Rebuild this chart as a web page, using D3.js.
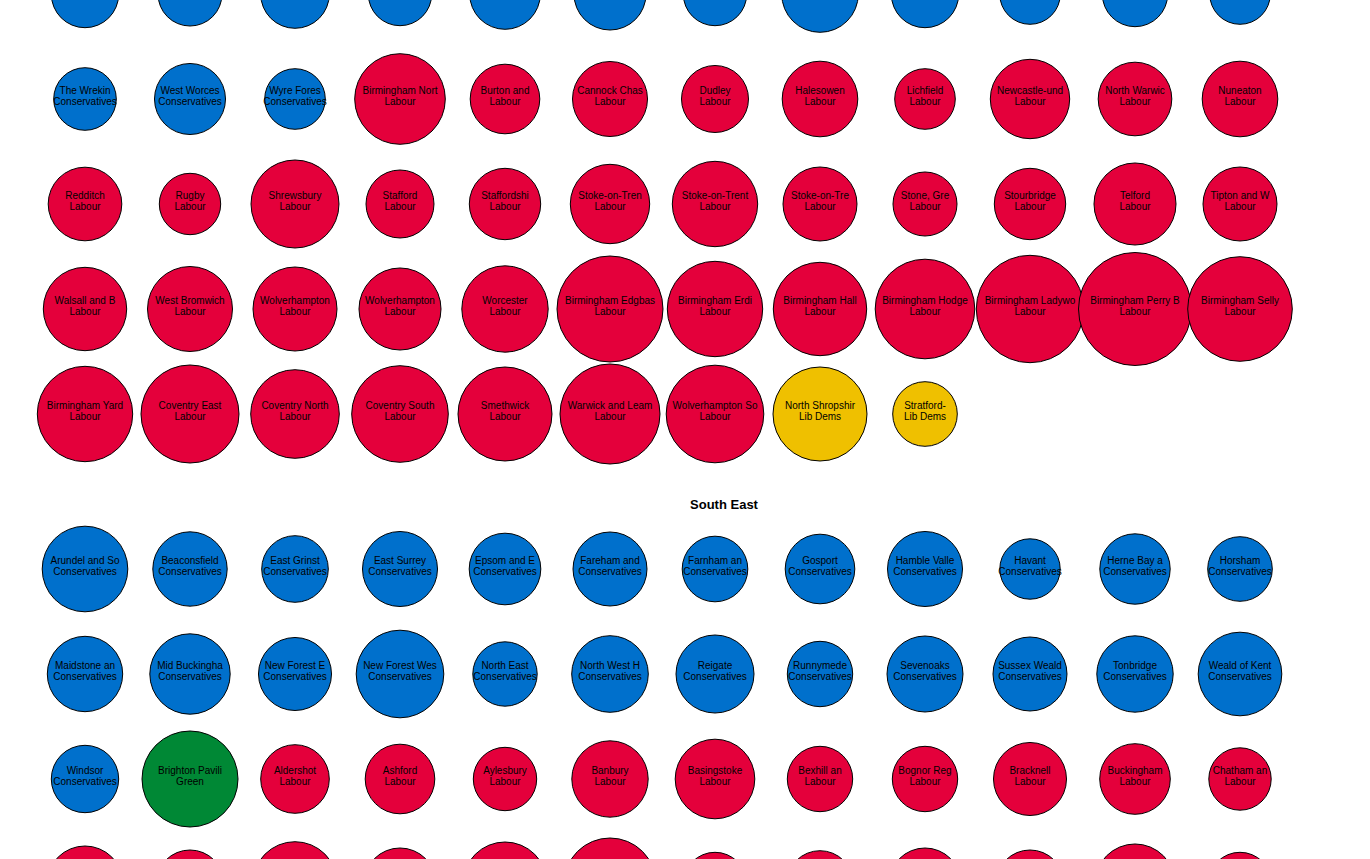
<!DOCTYPE html>
<html>
<head>
<meta charset="utf-8">
<script src="https://cdn.jsdelivr.net/npm/d3@7/dist/d3.min.js"></script>
<style>
  html, body { margin: 0; padding: 0; background: #fff; overflow: hidden; }
  svg { display: block; font-family: "Liberation Sans", Arial, sans-serif; }
</style>
</head>
<body>
<svg id="chart" width="1370" height="859"></svg>
<script>
// ---------- DATA ----------
const regions = ["West Midlands", "South East"];

const partyNames   = ["Conservatives", "Labour", "Lib Dems", "Green"];
const partyColours = ["#0070cc", "#e4003b", "#efc000", "#008835"];

// West Midlands seats (labels as shown, truncated in the original)
const wmNames = [
  "Aldridge-Brow", "Bromsgrove", "Droitwich and", "Hereford and", "Kenilworth an", "Ludlow",
  "Meriden and S", "North Herefor", "Solihull West", "South Shropsh", "Sutton Coldfi", "Tamworth",
  "The Wrekin", "West Worces", "Wyre Fores", "Birmingham Nort", "Burton and", "Cannock Chas",
  "Dudley", "Halesowen", "Lichfield", "Newcastle-und", "North Warwic", "Nuneaton",
  "Redditch", "Rugby", "Shrewsbury", "Stafford", "Staffordshi", "Stoke-on-Tren",
  "Stoke-on-Trent", "Stoke-on-Tre", "Stone, Gre", "Stourbridge", "Telford", "Tipton and W",
  "Walsall and B", "West Bromwich", "Wolverhampton", "Wolverhampton", "Worcester", "Birmingham Edgbas",
  "Birmingham Erdi", "Birmingham Hall", "Birmingham Hodge", "Birmingham Ladywo", "Birmingham Perry B", "Birmingham Selly",
  "Birmingham Yard", "Coventry East", "Coventry North", "Coventry South", "Smethwick", "Warwick and Leam",
  "Wolverhampton So", "North Shropshir", "Stratford-"
];
const wmParties = [
  "Conservatives","Conservatives","Conservatives","Conservatives","Conservatives","Conservatives",
  "Conservatives","Conservatives","Conservatives","Conservatives","Conservatives","Conservatives",
  "Conservatives","Conservatives","Conservatives","Labour","Labour","Labour",
  "Labour","Labour","Labour","Labour","Labour","Labour",
  "Labour","Labour","Labour","Labour","Labour","Labour",
  "Labour","Labour","Labour","Labour","Labour","Labour",
  "Labour","Labour","Labour","Labour","Labour","Labour",
  "Labour","Labour","Labour","Labour","Labour","Labour",
  "Labour","Labour","Labour","Labour","Labour","Labour",
  "Labour","Lib Dems","Lib Dems"
];
const wmVotes = [
  12619, 11378, 13072, 11166, 13845, 14400, 11166, 16299, 12619, 10201, 11881, 10201,
  10886, 14003, 10201, 22801, 13456, 15625, 12469, 15876, 10201, 17512, 15047, 15876,
  15047, 10472, 21511, 12844, 14161, 17512, 20259, 15211, 11378, 14161, 18678, 15211,
  19321, 20069, 19600, 18678, 20736, 31211, 25281, 24232, 27556, 32041, 35469, 30392,
  25281, 26678, 21806, 25921, 24544, 27778, 26460, 24544, 11592
];

// South East seats
const seNames = [
  "Arundel and So", "Beaconsfield", "East Grinst", "East Surrey", "Epsom and E", "Fareham and",
  "Farnham an", "Gosport", "Hamble Valle", "Havant", "Herne Bay a", "Horsham",
  "Maidstone an", "Mid Buckingha", "New Forest E", "New Forest Wes", "North East", "North West H",
  "Reigate", "Runnymede", "Sevenoaks", "Sussex Weald", "Tonbridge", "Weald of Kent",
  "Windsor", "Brighton Pavili", "Aldershot", "Ashford", "Aylesbury", "Banbury",
  "Basingstoke", "Bexhill an", "Bognor Reg", "Bracknell", "Buckingham", "Chatham an",
  "Crawley", "Dartford", "Dover and De", "Folkestone a", "Gillingham a", "Gravesham",
  "Hastings an", "Hove and Po", "Milton Keyne", "Milton Keyne", "Oxford East", "Portsmouth"
];
const seParties = [
  "Conservatives","Conservatives","Conservatives","Conservatives","Conservatives","Conservatives",
  "Conservatives","Conservatives","Conservatives","Conservatives","Conservatives","Conservatives",
  "Conservatives","Conservatives","Conservatives","Conservatives","Conservatives","Conservatives",
  "Conservatives","Conservatives","Conservatives","Conservatives","Conservatives","Conservatives",
  "Conservatives","Green","Labour","Labour","Labour","Labour",
  "Labour","Labour","Labour","Labour","Labour","Labour",
  "Labour","Labour","Labour","Labour","Labour","Labour",
  "Labour","Labour","Labour","Labour","Labour","Labour"
];
const seVotes = [
  20354, 15376, 12321, 15625, 14240, 15211, 11954, 13456, 15625, 10134, 13767, 11592,
  15792, 17956, 14803, 21316, 11520, 16299, 16900, 11881, 16044, 15211, 16214, 19414,
  12619, 25600, 13072, 13456, 11166, 16214, 17600, 11881, 11881, 14803, 13845, 10816,
  16044, 12844, 19881, 14400, 19600, 23511, 11166, 12321, 14400, 12844, 17778, 11166
];

// ---------- LAYOUT ----------
const width = 1370, height = 859;
const svg = d3.select("#chart");
const cols = 12;
const rowStep = 105;
const titleGap = 60;      // title baseline -> first row centre
const sectionGap = 95;    // last row centre -> next title baseline
const pageOffset = -66;   // page is scrolled: first title sits above the view
const titleX = 724;

const x = d3.scalePoint().domain(d3.range(cols)).range([85, 1240]);
const r = d3.scaleSqrt().domain([0, 40000]).range([0, 60]);
const colour = d3.scaleOrdinal().domain(partyNames).range(partyColours);

const regionSeats = [
  d3.zip(wmNames, wmParties, wmVotes),
  d3.zip(seNames, seParties, seVotes)
];

// only text that falls inside the visible page is drawn
const visible = (yy, pad) => yy - pad >= 0 && yy + pad <= height;

let cursor = pageOffset;
regions.forEach((region, ri) => {
  const seats = regionSeats[ri].map(([name, party, votes], i) => ({
    name, party, votes, col: i % cols, row: Math.floor(i / cols)
  }));
  const nRows = Math.ceil(seats.length / cols);
  const titleY = cursor;
  const firstRowY = titleY + titleGap;
  const y = d3.scaleLinear().domain([0, 1]).range([firstRowY, firstRowY + rowStep]);

  const g = svg.append("g").attr("class", "region");
  if (visible(titleY, 12)) {
    g.append("text")
      .attr("x", titleX)
      .attr("y", titleY)
      .attr("text-anchor", "middle")
      .attr("font-size", 13)
      .attr("font-weight", "bold")
      .attr("fill", "#000")
      .text(region);
  }

  const seat = g.selectAll("g.seat").data(seats).join("g")
    .attr("class", "seat")
    .attr("transform", d => `translate(${x(d.col)},${y(d.row)})`);

  seat.append("circle")
    .attr("r", d => r(d.votes))
    .attr("fill", d => colour(d.party))
    .attr("stroke", "#000")
    .attr("stroke-width", 1);

  const label = seat.filter(d => visible(y(d.row), 16)).append("text")
    .attr("text-anchor", "middle")
    .attr("font-size", 10)
    .attr("fill", "#000");
  label.append("tspan").attr("x", 0).attr("dy", "-0.5em").text(d => d.name);
  label.append("tspan").attr("x", 0).attr("dy", "1.1em").text(d => d.party);

  cursor = y(nRows - 1) + sectionGap;
});
</script>
</body>
</html>
